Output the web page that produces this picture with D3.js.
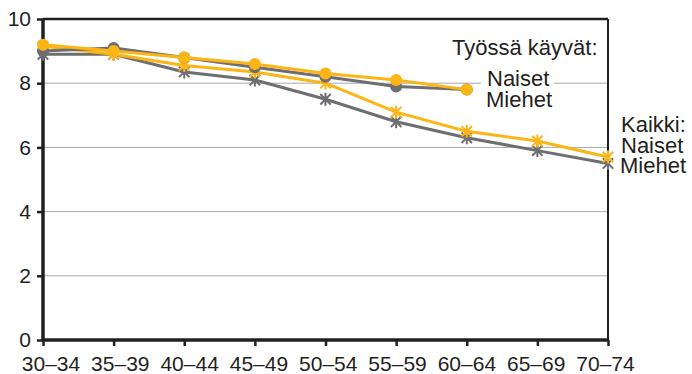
<!DOCTYPE html>
<html>
<head>
<meta charset="utf-8">
<script src="https://cdn.jsdelivr.net/npm/d3@7"></script>
<style>
  html, body { margin: 0; padding: 0; background: #fff; }
  svg { display: block; font-family: "Liberation Sans", Arial, sans-serif; }
</style>
</head>
<body>
<svg id="chart" width="692" height="374"></svg>
<script>
// Age groups on the x axis
const ageGroups = ["30–34", "35–39", "40–44", "45–49", "50–54", "55–59", "60–64", "65–69", "70–74"];
const yTicks = [0, 2, 4, 6, 8, 10];

// Employed (Työssä käyvät), ages 30–64
const workingWomen = [9.2, 9.0, 8.8, 8.6, 8.3, 8.1, 7.8];
const workingMen   = [9.0, 9.1, 8.8, 8.5, 8.2, 7.9, 7.8];
// Everyone (Kaikki), ages 30–74
const allWomen = [9.15, 8.9, 8.55, 8.35, 8.0, 7.1, 6.5, 6.2, 5.7];
const allMen   = [8.9, 8.9, 8.35, 8.1, 7.5, 6.8, 6.3, 5.9, 5.5];

const YELLOW = "#fdb515";
const GRAY = "#6d6e71";
const INK = "#231f20";

const svg = d3.select("#chart");
const plot = { left: 43, right: 608, top: 19, bottom: 340 };

const x = d3.scalePoint().domain(ageGroups).range([plot.left, plot.right]);
const y = d3.scaleLinear().domain([0, 10]).range([plot.bottom, plot.top]);
// category labels sit on a slightly narrower span than the ticks
const xLabel = d3.scalePoint().domain(ageGroups).range([50.5, 605]);

// horizontal gridlines
svg.append("g").selectAll("line")
  .data(yTicks.filter(t => t > 0 && t < 10))
  .join("line")
  .attr("x1", plot.left).attr("x2", plot.right)
  .attr("y1", d => y(d)).attr("y2", d => y(d))
  .attr("stroke", "#a7a9ac").attr("stroke-width", 1);

// frame: top and right edges
svg.append("line").attr("x1", plot.left).attr("x2", plot.right).attr("y1", plot.top).attr("y2", plot.top)
  .attr("stroke", INK).attr("stroke-width", 2.5);
svg.append("line").attr("x1", plot.right).attr("x2", plot.right).attr("y1", plot.top).attr("y2", plot.bottom)
  .attr("stroke", INK).attr("stroke-width", 2);

// axes
const yAxis = d3.axisLeft(y).tickValues(yTicks).tickSize(6).tickPadding(6);
const gy = svg.append("g").attr("transform", `translate(${plot.left},0)`).call(yAxis);
const xAxis = d3.axisBottom(x).tickSize(6).tickPadding(10);
const gx = svg.append("g").attr("transform", `translate(0,${plot.bottom})`).call(xAxis);

[gy, gx].forEach(g => {
  g.select(".domain").attr("stroke", INK).attr("stroke-width", 3.5);
  g.selectAll(".tick line").attr("stroke", INK).attr("stroke-width", 2.5);
  g.selectAll(".tick text").attr("fill", INK).attr("font-size", 21)
    .attr("font-family", "Liberation Sans, Arial, sans-serif");
});
gy.select(".domain").attr("d", `M0,${plot.bottom}V${plot.top}`);
gx.select(".domain").attr("d", `M${plot.left},0H${plot.right}`);
gx.selectAll(".tick text").attr("dy", "0.71em").attr("x", d => xLabel(d) - x(d));

const line = d3.line().x((d, i) => x(ageGroups[i])).y(d => y(d));

// asterisk marker: vertical bar plus an X
function star(g, data, color) {
  const r = 6.5;
  g.append("g").selectAll("path").data(data).join("path")
    .attr("transform", (d, i) => `translate(${x(ageGroups[i])},${y(d)})`)
    .attr("d", `M0,${-r}V${r}M${-r*0.8},${-r*0.8}L${r*0.8},${r*0.8}M${-r*0.8},${r*0.8}L${r*0.8},${-r*0.8}`)
    .attr("stroke", color).attr("stroke-width", 2).attr("fill", "none");
}
function circles(g, data, color) {
  g.append("g").selectAll("circle").data(data).join("circle")
    .attr("cx", (d, i) => x(ageGroups[i])).attr("cy", d => y(d))
    .attr("r", 6).attr("fill", color);
}

const series = svg.append("g");
function drawLine(data, color) {
  series.append("path").datum(data).attr("d", line)
    .attr("fill", "none").attr("stroke", color).attr("stroke-width", 3)
    .attr("stroke-linejoin", "round");
}
drawLine(allMen, GRAY); star(series, allMen, GRAY);
drawLine(allWomen, YELLOW); star(series, allWomen, YELLOW);

// white box behind the employed-series labels
series.append("rect").attr("x", 481).attr("y", 66).attr("width", 73).attr("height", 44).attr("fill", "#fff");

drawLine(workingMen, GRAY); circles(series, workingMen, GRAY);
drawLine(workingWomen, YELLOW); circles(series, workingWomen, YELLOW);

// stacked series labels, one text block per group
function labelBlock(x0, y0, lines, step) {
  const t = svg.append("text").attr("font-size", 22).attr("fill", INK)
    .attr("x", x0).attr("y", y0);
  lines.forEach((s, i) => {
    t.append("tspan").attr("x", x0 + s.dx).attr("dy", i === 0 ? 0 : step[i - 1]).text(s.text);
  });
}
labelBlock(452, 55, [
  { text: "Työssä käyvät:", dx: 0 },
  { text: "Naiset", dx: 35 },
  { text: "Miehet", dx: 34 }
], [31, 21]);
labelBlock(621, 132, [
  { text: "Kaikki:", dx: 0 },
  { text: "Naiset", dx: 0 },
  { text: "Miehet", dx: -1 }
], [21, 20]);
</script>
</body>
</html>
